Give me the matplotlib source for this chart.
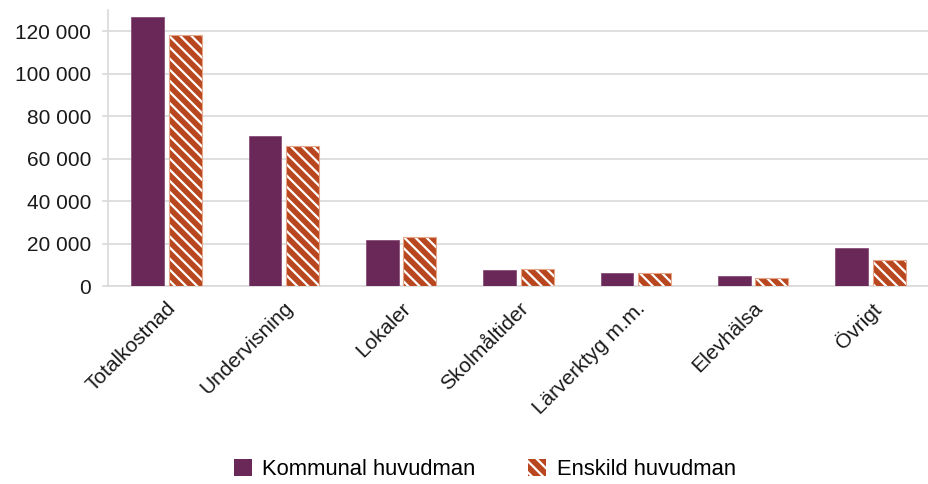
import numpy as np
import matplotlib.pyplot as plt
import matplotlib.transforms as mtransforms
from matplotlib.patches import Patch
from matplotlib.ticker import FuncFormatter

plt.rcParams['font.family'] = ['Liberation Sans', 'DejaVu Sans']
plt.rcParams['hatch.linewidth'] = 1.6

categories = ['Totalkostnad', 'Undervisning', 'Lokaler', 'Skolmåltider',
              'Lärverktyg m.m.', 'Elevhälsa', 'Övrigt']
kommunal = [127000, 70600, 21500, 7500, 6000, 4700, 18000]
enskild = [118100, 65900, 22900, 8100, 6300, 3900, 12200]

purple = '#6A2858'
orange = '#B8461E'
grid_c = '#D9D9D9'
fs = 15

fig = plt.figure(figsize=(9.29, 4.84), dpi=100)
ax = fig.add_axes([0.116, 0.409, 0.884, 0.570])

x = np.arange(len(categories))
w = 0.28
gap = 0.04
ax.bar(x - (w + gap) / 2, kommunal, w, color=purple, edgecolor='#8A4F78',
       linewidth=0.6, zorder=3)
ax.bar(x + (w + gap) / 2, enskild, w, color=orange, edgecolor='white',
       hatch='\\\\\\', linewidth=0, zorder=3)
ax.bar(x + (w + gap) / 2, enskild, w, fill=False, edgecolor='#E6A488',
       linewidth=0.8, zorder=4)

ax.set_xlim(-0.5, len(categories) - 0.5)
ax.set_ylim(0, 130000)
ax.set_yticks(np.arange(0, 130000, 20000))
ax.yaxis.set_major_formatter(FuncFormatter(lambda v, p: f'{int(v):,}'.replace(',', ' ')))
ax.grid(axis='y', color=grid_c, linewidth=1.2, zorder=0)
ax.set_xticks(x)
ax.set_xticklabels(categories, rotation=45, ha='right', rotation_mode='anchor')
shift = mtransforms.ScaledTranslation(-5 / 100, 0, fig.dpi_scale_trans)
for lbl in ax.get_xticklabels():
    lbl.set_transform(lbl.get_transform() + shift)

for s in ['top', 'right']:
    ax.spines[s].set_visible(False)
ax.spines['left'].set_color(grid_c)
ax.spines['bottom'].set_color(grid_c)
ax.spines['left'].set_linewidth(1.2)
ax.spines['bottom'].set_linewidth(1.2)
ax.tick_params(axis='y', colors=grid_c, labelcolor='#1a1a1a', labelsize=fs,
               length=4, width=1.2, pad=8)
ax.tick_params(axis='x', length=0, labelsize=fs, labelcolor='#1a1a1a', pad=9)

handles = [Patch(facecolor=purple, edgecolor='none'),
           Patch(facecolor=orange, edgecolor='white', hatch='\\\\\\', linewidth=0)]
fig.legend(handles, ['Kommunal huvudman', 'Enskild huvudman'], loc='center',
           bbox_to_anchor=(0.522, 0.03), ncol=2, frameon=False, fontsize=15.8,
           handlelength=0.8, handleheight=0.8, columnspacing=2.4, handletextpad=0.5)

fig.savefig('out.png', dpi=100)
